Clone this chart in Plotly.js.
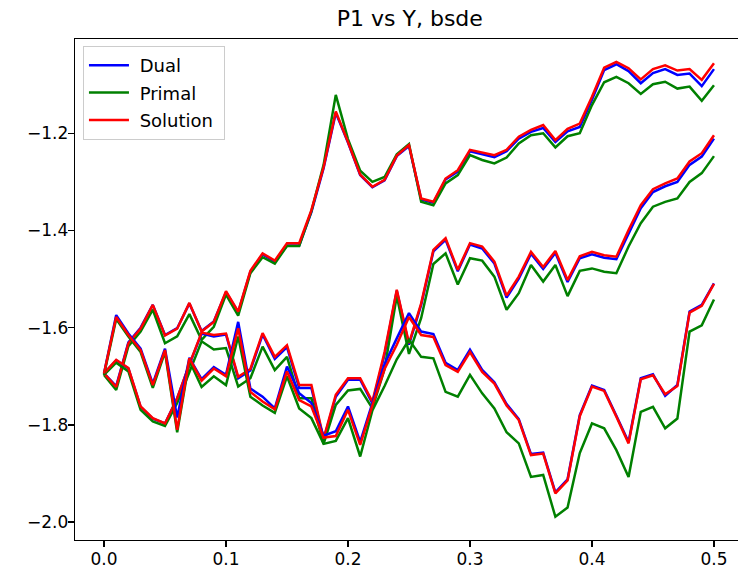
<!DOCTYPE html>
<html>
<head>
<meta charset="utf-8">
<script src="https://cdn.plot.ly/plotly-3.0.1.min.js"></script>
<style>html,body{margin:0;padding:0;background:#fff;}#chart{width:738px;height:576px;}</style>
</head>
<body>
<div id="chart"></div>
<script>
// time grid 0.00 .. 0.50
const t = [0.00,0.01,0.02,0.03,0.04,0.05,0.06,0.07,0.08,0.09,0.10,0.11,0.12,0.13,0.14,0.15,0.16,0.17,0.18,0.19,0.20,0.21,0.22,0.23,0.24,0.25,0.26,0.27,0.28,0.29,0.30,0.31,0.32,0.33,0.34,0.35,0.36,0.37,0.38,0.39,0.40,0.41,0.42,0.43,0.44,0.45,0.46,0.47,0.48,0.49,0.50];

// path 1 (ends highest)
const dual1 = [-1.694,-1.720,-1.630,-1.600,-1.553,-1.615,-1.601,-1.550,-1.607,-1.587,-1.527,-1.568,-1.485,-1.449,-1.464,-1.431,-1.431,-1.362,-1.272,-1.158,-1.219,-1.286,-1.311,-1.297,-1.247,-1.226,-1.336,-1.343,-1.295,-1.279,-1.237,-1.243,-1.249,-1.237,-1.211,-1.197,-1.189,-1.218,-1.196,-1.187,-1.131,-1.070,-1.058,-1.072,-1.097,-1.076,-1.068,-1.080,-1.077,-1.103,-1.068];
const primal1 = [-1.697,-1.728,-1.638,-1.608,-1.563,-1.632,-1.618,-1.572,-1.625,-1.598,-1.532,-1.575,-1.488,-1.455,-1.468,-1.432,-1.432,-1.360,-1.265,-1.121,-1.212,-1.277,-1.300,-1.290,-1.243,-1.222,-1.341,-1.348,-1.303,-1.286,-1.245,-1.255,-1.262,-1.250,-1.221,-1.204,-1.200,-1.229,-1.206,-1.200,-1.142,-1.095,-1.084,-1.097,-1.119,-1.099,-1.094,-1.108,-1.104,-1.133,-1.101];
const solution1 = [-1.694,-1.722,-1.632,-1.602,-1.553,-1.616,-1.602,-1.549,-1.608,-1.588,-1.525,-1.567,-1.483,-1.447,-1.462,-1.426,-1.426,-1.358,-1.270,-1.155,-1.218,-1.285,-1.310,-1.296,-1.246,-1.224,-1.334,-1.341,-1.293,-1.276,-1.234,-1.240,-1.245,-1.234,-1.207,-1.193,-1.183,-1.214,-1.191,-1.180,-1.125,-1.065,-1.053,-1.066,-1.089,-1.068,-1.060,-1.071,-1.068,-1.090,-1.056];

// path 2 (ends in the middle)
const dual2 = [-1.694,-1.667,-1.684,-1.763,-1.787,-1.797,-1.745,-1.676,-1.612,-1.618,-1.614,-1.704,-1.688,-1.614,-1.664,-1.640,-1.724,-1.724,-1.830,-1.742,-1.707,-1.707,-1.756,-1.655,-1.524,-1.635,-1.553,-1.443,-1.419,-1.484,-1.429,-1.437,-1.468,-1.538,-1.499,-1.448,-1.479,-1.446,-1.506,-1.457,-1.449,-1.456,-1.459,-1.405,-1.354,-1.321,-1.309,-1.300,-1.265,-1.248,-1.211];
const primal2 = [-1.697,-1.672,-1.690,-1.769,-1.793,-1.802,-1.755,-1.690,-1.628,-1.645,-1.642,-1.721,-1.704,-1.639,-1.687,-1.660,-1.745,-1.745,-1.839,-1.759,-1.729,-1.726,-1.766,-1.685,-1.535,-1.654,-1.580,-1.469,-1.447,-1.511,-1.457,-1.462,-1.495,-1.563,-1.529,-1.471,-1.505,-1.471,-1.535,-1.483,-1.478,-1.485,-1.488,-1.433,-1.385,-1.351,-1.341,-1.334,-1.300,-1.282,-1.247];
const solution2 = [-1.694,-1.666,-1.683,-1.762,-1.786,-1.797,-1.745,-1.675,-1.610,-1.615,-1.612,-1.701,-1.685,-1.611,-1.660,-1.636,-1.718,-1.718,-1.828,-1.738,-1.704,-1.704,-1.752,-1.650,-1.522,-1.632,-1.550,-1.440,-1.416,-1.481,-1.426,-1.433,-1.464,-1.534,-1.495,-1.444,-1.475,-1.442,-1.502,-1.453,-1.444,-1.451,-1.454,-1.399,-1.348,-1.315,-1.303,-1.293,-1.258,-1.241,-1.204];

// path 3 (ends lowest)
const dual3 = [-1.694,-1.574,-1.612,-1.643,-1.715,-1.643,-1.785,-1.662,-1.706,-1.681,-1.697,-1.588,-1.725,-1.742,-1.766,-1.680,-1.735,-1.755,-1.822,-1.813,-1.762,-1.835,-1.755,-1.675,-1.622,-1.570,-1.608,-1.613,-1.672,-1.687,-1.645,-1.687,-1.712,-1.757,-1.788,-1.860,-1.857,-1.939,-1.912,-1.780,-1.719,-1.728,-1.781,-1.835,-1.704,-1.696,-1.740,-1.718,-1.567,-1.553,-1.509];
const primal3 = [-1.697,-1.582,-1.618,-1.650,-1.724,-1.650,-1.815,-1.668,-1.722,-1.700,-1.718,-1.618,-1.742,-1.760,-1.775,-1.700,-1.766,-1.786,-1.839,-1.833,-1.786,-1.865,-1.770,-1.720,-1.665,-1.625,-1.660,-1.663,-1.732,-1.742,-1.697,-1.735,-1.766,-1.815,-1.838,-1.907,-1.903,-1.989,-1.970,-1.858,-1.797,-1.807,-1.852,-1.907,-1.773,-1.763,-1.807,-1.787,-1.608,-1.595,-1.542];
const solution3 = [-1.694,-1.578,-1.615,-1.646,-1.718,-1.646,-1.810,-1.663,-1.709,-1.684,-1.700,-1.601,-1.732,-1.752,-1.768,-1.690,-1.749,-1.762,-1.826,-1.823,-1.769,-1.841,-1.760,-1.685,-1.635,-1.578,-1.615,-1.619,-1.677,-1.691,-1.650,-1.691,-1.715,-1.760,-1.790,-1.862,-1.859,-1.941,-1.914,-1.782,-1.721,-1.730,-1.783,-1.838,-1.706,-1.698,-1.737,-1.720,-1.569,-1.555,-1.510];

const seriesNames = ["Dual","Primal","Solution"];
const seriesColors = ["blue","green","red"];
const xTicks = [0.0,0.1,0.2,0.3,0.4,0.5];
const yTicks = [-2.0,-1.8,-1.6,-1.4,-1.2];

const paths = [[dual1,primal1,solution1],[dual2,primal2,solution2],[dual3,primal3,solution3]];
const traces = [];
paths.forEach((p, pi) => {
  p.forEach((ys, si) => {
    traces.push({
      x: t, y: ys, type: 'scatter', mode: 'lines',
      name: '\u00a0' + seriesNames[si] + '\u00a0', legendgroup: seriesNames[si],
      showlegend: pi === 0,
      line: {color: seriesColors[si], width: 2.5},
      hoverinfo: 'skip'
    });
  });
});

const tickFont = {family: 'DejaVu Sans, sans-serif', size: 17, color: '#000'};
const layout = {
  width: 738, height: 576,
  margin: {l: 75, r: 0, t: 39, b: 36, pad: 0},
  paper_bgcolor: '#fff', plot_bgcolor: '#fff',
  font: tickFont,
  title: {text: 'P1 vs Y, bsde', font: {family: 'DejaVu Sans, sans-serif', size: 22, color: '#000'},
          xref: 'paper', x: 0.505, xanchor: 'center', yref: 'container', y: 0.968, yanchor: 'middle'},
  xaxis: {range: [-0.02377, 0.5197], tickvals: xTicks, tickformat: '.1f',
          showgrid: false, zeroline: false, showline: true, mirror: true, linecolor: '#000', linewidth: 1.3,
          ticks: 'outside', ticklen: 6, tickwidth: 1.3, tickcolor: '#000', tickfont: tickFont,
          ticklabelstandoff: -3},
  yaxis: {range: [-2.0368, -1.006], tickvals: yTicks, tickformat: '.1f',
          showgrid: false, zeroline: false, showline: true, mirror: false, linecolor: '#000', linewidth: 1.3,
          ticks: 'outside', ticklen: 6, tickwidth: 1.3, tickcolor: '#000', tickfont: tickFont,
          ticklabelstandoff: -4},
  showlegend: true,
  legend: {x: 0.012, y: 0.986, xanchor: 'left', yanchor: 'top',
           bgcolor: 'rgba(255,255,255,0.8)', bordercolor: '#cccccc', borderwidth: 1,
           font: {family: 'DejaVu Sans, sans-serif', size: 18, color: '#000'},
           tracegroupgap: 1, itemwidth: 40}
};
Plotly.newPlot('chart', traces, layout, {displayModeBar: false, staticPlot: true});
</script>
</body>
</html>
